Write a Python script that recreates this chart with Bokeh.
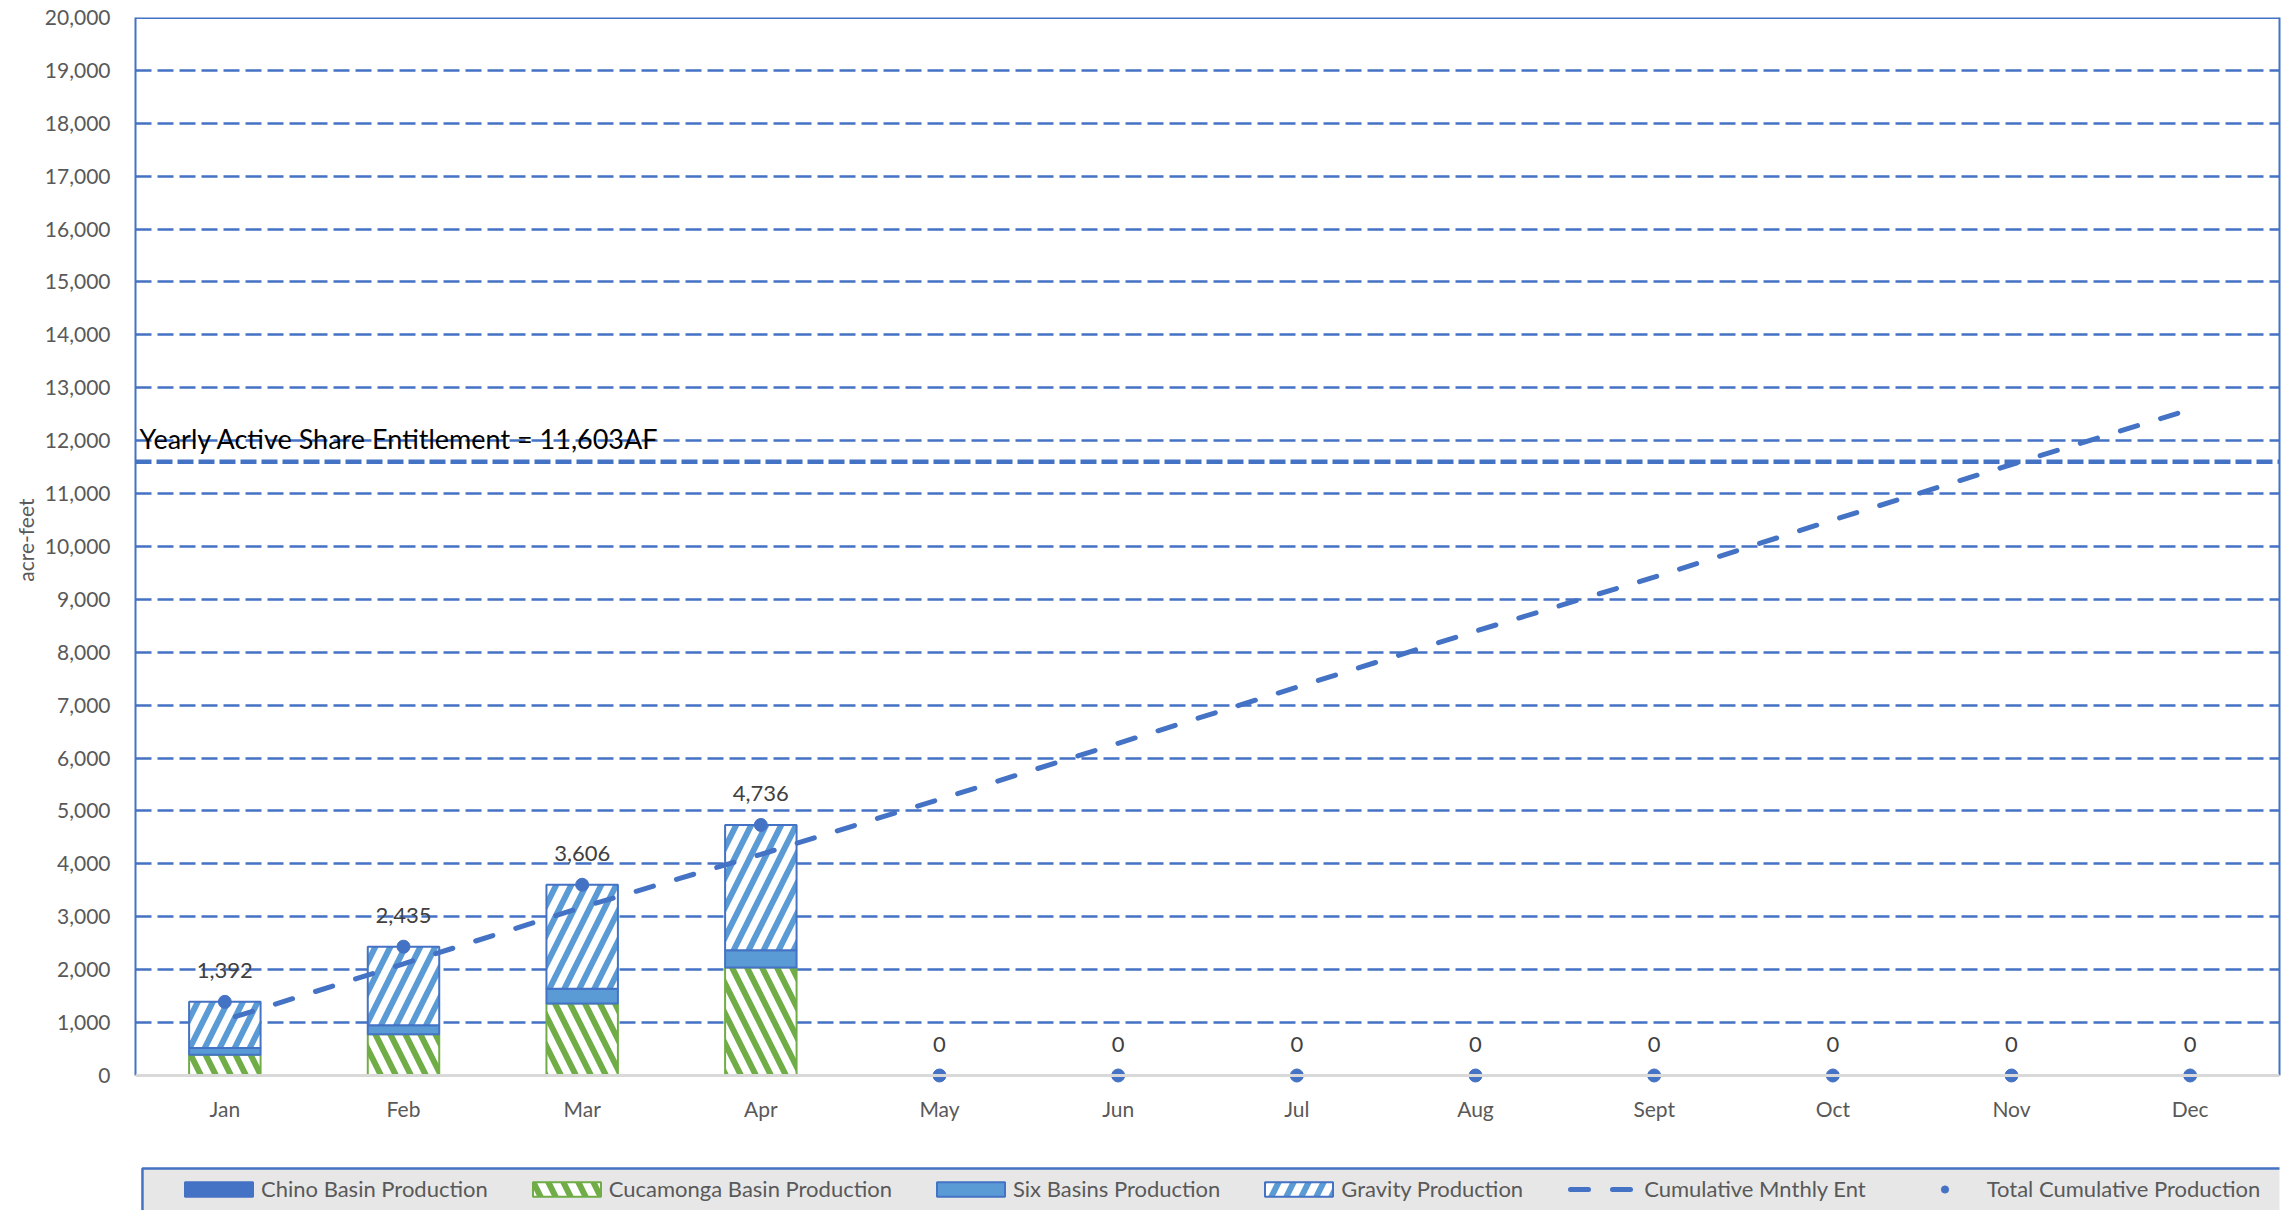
from bokeh.plotting import figure
from bokeh.models import (ColumnDataSource, FactorRange, Range1d, FixedTicker, LinearAxis,
                          NumeralTickFormatter, Span, Label, LabelSet, Legend, LegendItem,
                          BoxAnnotation)
from bokeh.transform import stack
from bokeh.core.properties import value
from bokeh.embed import file_html
from bokeh.resources import INLINE

# ---------------- data ----------------
months = ["Jan", "Feb", "Mar", "Apr", "May", "Jun", "Jul", "Aug", "Sept", "Oct", "Nov", "Dec"]
chino_basin = [0, 0, 0, 0, 0, 0, 0, 0, 0, 0, 0, 0]
cucamonga_basin = [390, 780, 1360, 2040, 0, 0, 0, 0, 0, 0, 0, 0]
six_basins = [130, 170, 280, 330, 0, 0, 0, 0, 0, 0, 0, 0]
gravity = [872, 1485, 1966, 2366, 0, 0, 0, 0, 0, 0, 0, 0]
total_cumulative = [1392, 2435, 3606, 4736, 0, 0, 0, 0, 0, 0, 0, 0]
cumulative_mnthly_ent = [1050, 2110, 3180, 4180, 5220, 6280, 7340, 8400, 9420, 10500, 11550, 12590]
entitlement = 11603
y_max = 20000
y_ticks = [0, 1000, 2000, 3000, 4000, 5000, 6000, 7000, 8000, 9000, 10000,
           11000, 12000, 13000, 14000, 15000, 16000, 17000, 18000, 19000, 20000]

# ---------------- style ----------------
FONT = "Lato"
BLUE = "#4472C4"
LIGHT = "#5B9BD5"
GREEN = "#70AD47"
GRAY_TXT = "#595959"

src = ColumnDataSource(dict(
    month=months, chino=chino_basin, cuc=cucamonga_basin, six=six_basins,
    grav=gravity, total=total_cumulative, cum=cumulative_mnthly_ent,
    total_label=[f"{v:,}" for v in total_cumulative],
    zero=[0] * len(months),
))

# the frame runs down to the page bottom so that the legend (drawn inside it) is not clipped
p = figure(x_range=FactorRange(*months), y_range=Range1d(-2552, y_max),
           width=2287, height=1210, output_backend="svg", toolbar_location=None,
           x_axis_location=None, title="acre-feet", title_location="left",
           min_border_left=135, min_border_right=8, min_border_top=17, min_border_bottom=0)
p.background_fill_color = "white"
p.border_fill_color = "white"
p.outline_line_color = None

# y-axis title (placed along the 0..20,000 part of the axis)
p.title.text_font = FONT
p.title.text_font_size = "21px"
p.title.text_font_style = "normal"
p.title.text_color = GRAY_TXT
p.title.align = "right"
p.title.offset = 481
p.title.standoff = 8

# y axis (left)
p.yaxis.bounds = (0, y_max)
p.yaxis.ticker = FixedTicker(ticks=y_ticks)
p.yaxis.formatter = NumeralTickFormatter(format="0,0")
p.yaxis.major_tick_line_color = None
p.yaxis.minor_tick_line_color = None
p.yaxis.major_tick_out = 0
p.yaxis.major_tick_in = 0
p.yaxis.axis_line_color = BLUE
p.yaxis.axis_line_width = 2
p.yaxis.major_label_text_font = FONT
p.yaxis.major_label_text_font_size = "21px"
p.yaxis.major_label_text_color = GRAY_TXT
p.yaxis.major_label_standoff = 25

# right border as an unlabeled axis
p.add_layout(LinearAxis(bounds=(0, y_max), ticker=FixedTicker(ticks=[]),
                        axis_line_color=BLUE, axis_line_width=2,
                        major_tick_line_color=None, minor_tick_line_color=None,
                        major_tick_out=0, major_tick_in=0, major_label_text_font_size="0px"),
             "right")

p.xgrid.grid_line_color = None
p.ygrid.ticker = FixedTicker(ticks=y_ticks[1:-1])
p.ygrid.grid_line_color = BLUE
p.ygrid.grid_line_width = 2.3
p.ygrid.grid_line_dash = "16 6"

# top border
p.add_layout(Span(location=y_max, dimension="width", line_color=BLUE, line_width=3))

# stacked bars
W = 0.4
HS = 30
r_chino = p.vbar(x="month", width=W, bottom=0, top=stack("chino"), source=src,
                 fill_color=BLUE, line_color=BLUE, line_width=2)
r_cuc = p.vbar(x="month", width=W, bottom=stack("chino"), top=stack("chino", "cuc"), source=src,
               fill_color="white", line_color=GREEN, line_width=2,
               hatch_pattern="left_diagonal_line", hatch_color=GREEN, hatch_scale=HS, hatch_weight=6)
r_six = p.vbar(x="month", width=W, bottom=stack("chino", "cuc"), top=stack("chino", "cuc", "six"),
               source=src, fill_color=LIGHT, line_color=BLUE, line_width=2)
r_grav = p.vbar(x="month", width=W, bottom=stack("chino", "cuc", "six"),
                top=stack("chino", "cuc", "six", "grav"), source=src,
                fill_color="white", line_color=BLUE, line_width=2,
                hatch_pattern="right_diagonal_line", hatch_color=LIGHT, hatch_scale=HS, hatch_weight=6)

# category axis line at 0
p.add_layout(Span(location=0, dimension="width", line_color="#D9D9D9", line_width=3))

# month labels below the 0 line
p.add_layout(LabelSet(x="month", y="zero", text="month", source=src, y_offset=-33,
                      text_align="center", text_baseline="middle", text_font=value(FONT),
                      text_font_size=value("21px"), text_color=GRAY_TXT))

# entitlement line + label
p.add_layout(Span(location=entitlement, dimension="width", line_color=BLUE,
                  line_width=4.5, line_dash="16 5"))
p.add_layout(Label(x=4, x_units="screen", y=entitlement, y_offset=7,
                   text=f"Yearly Active Share Entitlement = {entitlement:,}AF",
                   text_baseline="bottom", text_font=FONT, text_font_size="27px",
                   text_color="black"))

# cumulative entitlement line
r_cum = p.line(x="month", y="cum", source=src, line_color=BLUE, line_width=5,
               line_dash="18 24", line_dash_offset=31, line_cap="round")

# total cumulative production points + labels
r_tot = p.scatter(x="month", y="total", source=src, size=13, fill_color=BLUE, line_color=BLUE)
p.add_layout(LabelSet(x="month", y="total", text="total_label", source=src, y_offset=31,
                      text_align="center", text_baseline="middle", text_font=value(FONT),
                      text_font_size=value("22px"), text_color="#404040"))

# legend panel background (runs off the right and bottom edges, as in the original)
p.add_layout(BoxAnnotation(left=0.039, right=13, top=-1758, bottom=-3000,
                           fill_color="#E7E7E7", fill_alpha=1.0,
                           line_color=BLUE, line_width=2.5, line_alpha=1.0))

legend = Legend(items=[
    LegendItem(label="Chino Basin Production", renderers=[r_chino]),
    LegendItem(label="Cucamonga Basin Production", renderers=[r_cuc]),
    LegendItem(label="Six Basins Production", renderers=[r_six]),
    LegendItem(label="Gravity Production", renderers=[r_grav]),
    LegendItem(label="Cumulative Mnthly Ent", renderers=[r_cum]),
    LegendItem(label="Total Cumulative Production", renderers=[r_tot]),
], orientation="horizontal", location=(33, 0), margin=0, padding=8,
    spacing=36, label_standoff=0, glyph_width=85, glyph_height=18, label_height=22,
    label_text_font=FONT, label_text_font_size="22px", label_text_color=GRAY_TXT,
    background_fill_color="#E7E7E7", background_fill_alpha=0.0,
    border_line_color=BLUE, border_line_width=2, border_line_alpha=0.0)
p.add_layout(legend, "center")

open("out.html", "w").write(file_html(p, INLINE))
